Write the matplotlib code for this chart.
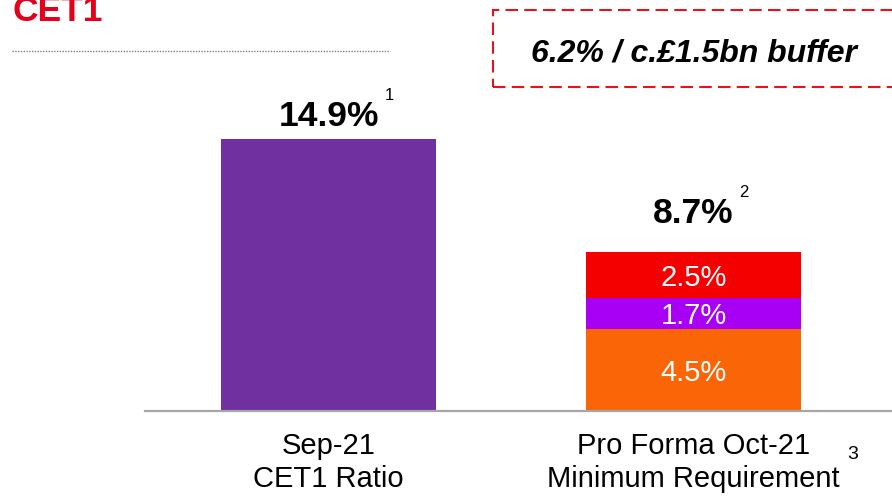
import matplotlib
matplotlib.use('Agg')
import matplotlib.pyplot as plt
from matplotlib.patches import Rectangle
from matplotlib.lines import Line2D

plt.rcParams['font.family'] = ['Liberation Sans', 'DejaVu Sans']

# data
categories = ['Sep-21\nCET1 Ratio', 'Pro Forma Oct-21\nMinimum Requirement']
cet1_ratio = 14.9
req_parts = [4.5, 1.7, 2.5]
req_colors = ['#FA6607', '#A800F5', '#F50000']
totals = [14.9, 8.7]
total_labels = ['14.9%', '8.7%']
footnotes = ['1', '2']
buffer_text = '6.2% / c.\u00a31.5bn buffer'
title = 'CET1'

W, H = 892, 499
fig = plt.figure(figsize=(W / 100, H / 100), dpi=100)
fig.patch.set_facecolor('white')

# axes: baseline at y=411px, 365px per x unit, ylim 0..20
ax = fig.add_axes([145 / W, (H - 411) / H, (W - 145) / W, 365 / H])
ax.set_xlim(-0.503, 1.544)
ax.set_ylim(0, 20)
for s in ax.spines.values():
    s.set_visible(False)
ax.set_yticks([])

bw = 0.589
ax.bar(0, cet1_ratio, width=bw, color='#7030A0')
bottom = 0
for v, c in zip(req_parts, req_colors):
    ax.bar(1, v, width=bw, bottom=bottom, color=c)
    ax.text(1, bottom + v / 2, f'{v}%', ha='center', va='center_baseline',
            color='white', fontsize=21)
    bottom += v

ax.axhline(0, color='#A6A6A6', lw=1.6, xmin=0, xmax=1, clip_on=False)

# total labels above bars
offsets = [0.7, 1.6]
for i, (t, lab, fn, off) in enumerate(zip(totals, total_labels, footnotes, offsets)):
    txt = ax.text(i, t + off, lab, ha='center', va='baseline',
                  fontsize=25.5, fontweight='bold')
    ax.annotate(fn, xy=(1, 1), xycoords=txt, xytext=(4, 9),
                textcoords='offset points', ha='left', va='top', fontsize=12)

ax.set_xticks([0, 1])
ax.set_xticklabels(categories, fontsize=21, linespacing=1.22)
ax.tick_params(axis='x', length=0, pad=15)
ax.text(1.437, -2.4, '3', ha='center', va='center', fontsize=14, clip_on=False)

# title and dotted rule
fig.text(13 / W, 1 - 21 / H, title, color='#E2001A', fontsize=25.5,
         fontweight='bold', va='baseline', ha='left')
fig.add_artist(Line2D([12 / W, 390 / W], [1 - 51 / H, 1 - 51 / H],
                      color='#808080', lw=1, linestyle=(0, (1, 1))))

# dashed buffer box
fig.add_artist(Rectangle((493 / W, (H - 87) / H), 420 / W, 77 / H,
                         fill=False, edgecolor='#E5141B', lw=1.5,
                         linestyle=(0, (6, 3)), transform=fig.transFigure))
fig.text(694 / W, 1 - 53 / H, buffer_text, fontsize=23, fontweight='bold',
         fontstyle='italic', ha='center', va='center')

fig.savefig('out.png', dpi=100)
